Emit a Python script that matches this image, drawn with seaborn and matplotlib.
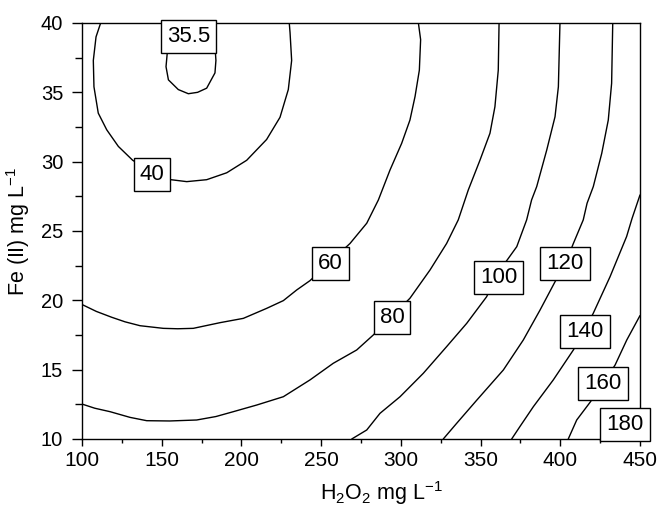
import matplotlib
matplotlib.use("Agg")
import matplotlib.pyplot as plt
from matplotlib.ticker import MultipleLocator
import numpy as np
import pandas as pd
import seaborn as sns

# ---------------- data (contour traces) ----------------
levels = [35.5, 40, 60, 80, 100, 120, 140, 160, 180]

h2o2_35 = [153.6, 152.7, 154.2, 160.4, 166.7, 172.5, 178.2, 183.4, 184.0, 183.6]
fe_35 = [38.0, 36.85, 35.9, 35.2, 34.9, 35.0, 35.3, 36.4, 37.3, 38.0]

h2o2_40 = [111.7, 108.8, 107.1, 107.5, 110.2, 115.5, 122.8, 131.8, 143.0, 155.8,
           165.7, 178.2, 190.8, 203.3, 215.8, 224.2, 229.4, 231.5, 230.5, 230.0]
fe_40 = [40.0, 39.0, 37.3, 35.4, 33.5, 32.3, 31.1, 30.1, 29.3, 28.7,
         28.56, 28.7, 29.2, 30.1, 31.6, 33.2, 35.2, 37.3, 39.3, 40.0]

h2o2_60 = [100.0, 109.0, 118.6, 127.0, 136.4, 151.0, 160.0, 169.8, 186.6, 201.2, 215.8, 226.3, 234.7, 243.0,
           255.0, 268.1, 278.6, 285.9, 293.2, 300.5, 305.7, 308.9, 311.6, 312.4, 311.0]
fe_60 = [19.7, 19.2, 18.78, 18.45, 18.17, 17.98, 17.95, 17.98, 18.39, 18.7, 19.42, 19.98, 20.75, 21.42,
         22.7, 24.1, 25.56, 27.24, 29.4, 31.32, 33.0, 34.7, 36.6, 38.8, 40.0]

h2o2_80 = [100.0, 108.0, 117.6, 130.1, 140.6, 155.0, 171.9, 184.0, 194.9, 209.6, 226.3, 243.0, 257.6, 272.3,
           282.7, 294.0, 305.7, 318.3, 328.7, 336.0, 342.3, 349.6, 355.9, 359.0, 361.1, 361.6]
fe_80 = [12.52, 12.22, 11.97, 11.56, 11.32, 11.3, 11.37, 11.62, 11.97, 12.45, 13.05, 14.26, 15.46, 16.42,
         17.5, 18.8, 20.15, 22.19, 24.1, 25.8, 27.96, 30.1, 32.05, 33.96, 36.6, 40.0]

h2o2_100 = [269.2, 278.6, 286.9, 299.5, 314.1, 328.7, 341.3, 353.8, 361.0, 372.7,
            378.9, 382.0, 385.2, 391.5, 396.7, 398.8, 399.8]
fe_100 = [10.0, 10.65, 11.85, 13.05, 14.74, 16.66, 18.34, 20.26, 22.0, 23.87,
          25.8, 27.24, 28.2, 30.84, 33.24, 35.4, 40.0]

h2o2_120 = [326.6, 335.0, 347.6, 364.3, 376.8, 387.3, 396.7, 403.0, 408.2, 414.4,
            416.8, 420.7, 426.0, 430.1, 432.2, 432.9]
fe_120 = [10.0, 11.13, 12.8, 14.98, 17.14, 19.3, 21.34, 22.6, 24.1, 25.8,
          27.0, 28.2, 30.6, 33.0, 35.65, 40.0]

h2o2_140 = [369.5, 374.7, 383.1, 395.6, 408.2, 415.0, 420.7, 431.2, 441.6, 445.0, 450.0]
fe_140 = [10.0, 10.9, 12.33, 14.26, 16.42, 17.8, 19.07, 21.7, 24.6, 25.9, 27.6]

h2o2_160 = [405.0, 410.3, 418.7, 426.8, 434.4, 441.7, 450.0]
fe_160 = [10.0, 11.37, 12.65, 14.0, 15.34, 17.14, 18.9]

h2o2_180 = [437.0, 443.0, 450.0]
fe_180 = [10.0, 11.1, 12.2]

x_ticks = [100, 150, 200, 250, 300, 350, 400, 450]
y_ticks = [10, 15, 20, 25, 30, 35, 40]

traces = {
    35.5: (h2o2_35, fe_35), 40: (h2o2_40, fe_40), 60: (h2o2_60, fe_60),
    80: (h2o2_80, fe_80), 100: (h2o2_100, fe_100), 120: (h2o2_120, fe_120),
    140: (h2o2_140, fe_140), 160: (h2o2_160, fe_160), 180: (h2o2_180, fe_180),
}

# ---------------- layout (label box centres, data coords) ----------------
label_pos = {35.5: (166.7, 39.06), 40: (143.9, 29.09), 60: (255.7, 22.66),
             80: (294.4, 18.76), 100: (361.4, 21.68), 120: (403.0, 22.63),
             140: (415.5, 17.75), 160: (426.8, 13.97), 180: (440.6, 11.08)}

# ---------------- build frame ----------------
rows = []
for lev in levels:
    xs, ys = traces[lev]
    for i, (xv, yv) in enumerate(zip(xs, ys)):
        rows.append({"H2O2": xv, "Fe": yv, "level": lev, "order": i})
df = pd.DataFrame(rows)

sns.set_style("ticks")
plt.rcParams["font.family"] = ["Liberation Sans", "DejaVu Sans"]
plt.rcParams["mathtext.default"] = "regular"
for k in ["text.color", "axes.labelcolor", "xtick.color", "ytick.color", "axes.edgecolor"]:
    plt.rcParams[k] = "black"

W, H = 657, 509
fig = plt.figure(figsize=(W / 100, H / 100), dpi=100)
ax = fig.add_axes([82 / W, 1 - 439 / H, (640 - 82) / W, (439 - 23) / H])

sns.lineplot(data=df, x="H2O2", y="Fe", units="level", estimator=None, sort=False,
             color="black", linewidth=1.0, ax=ax, legend=False)

for lev in levels:
    txt = f"{lev:g}"
    px, py = label_pos[lev]
    ax.text(px, py, txt, ha="center", va="center", fontsize=16, zorder=6,
            clip_on=False, color="black",
            bbox=dict(boxstyle="square,pad=0.27", facecolor="white",
                      edgecolor="black", linewidth=1.0))

ax.set_xlim(100, 450)
ax.set_ylim(10, 40)
ax.set_xticks(x_ticks)
ax.set_yticks(y_ticks)
ax.xaxis.set_minor_locator(MultipleLocator(25))
ax.yaxis.set_minor_locator(MultipleLocator(2.5))

for s in ax.spines.values():
    s.set_visible(True)
    s.set_linewidth(1.0)
    s.set_color("black")

ax.tick_params(axis="x", which="major", direction="out", length=5, width=1.0,
               labelsize=15, pad=4, color="black", labelcolor="black")
ax.tick_params(axis="x", which="minor", direction="out", length=3, width=1.0, color="black")
ax.tick_params(axis="y", which="major", direction="out", length=7, width=1.0,
               labelsize=14.5, pad=6.5, color="black", labelcolor="black")
ax.tick_params(axis="y", which="minor", direction="out", length=5, width=1.0, color="black")

ax.set_xlabel(r"H$_2$O$_2$ mg L$^{-1}$", fontsize=15.5, va="center", color="black")
ax.set_ylabel(r"Fe (II) mg L$^{-1}$", fontsize=15.5, va="center", color="black")
ax.xaxis.set_label_coords((382 - 82) / 558, (439 - 493) / 416)
ax.yaxis.set_label_coords((18 - 82) / 558, 0.5)

fig.savefig("out.png", dpi=100)
